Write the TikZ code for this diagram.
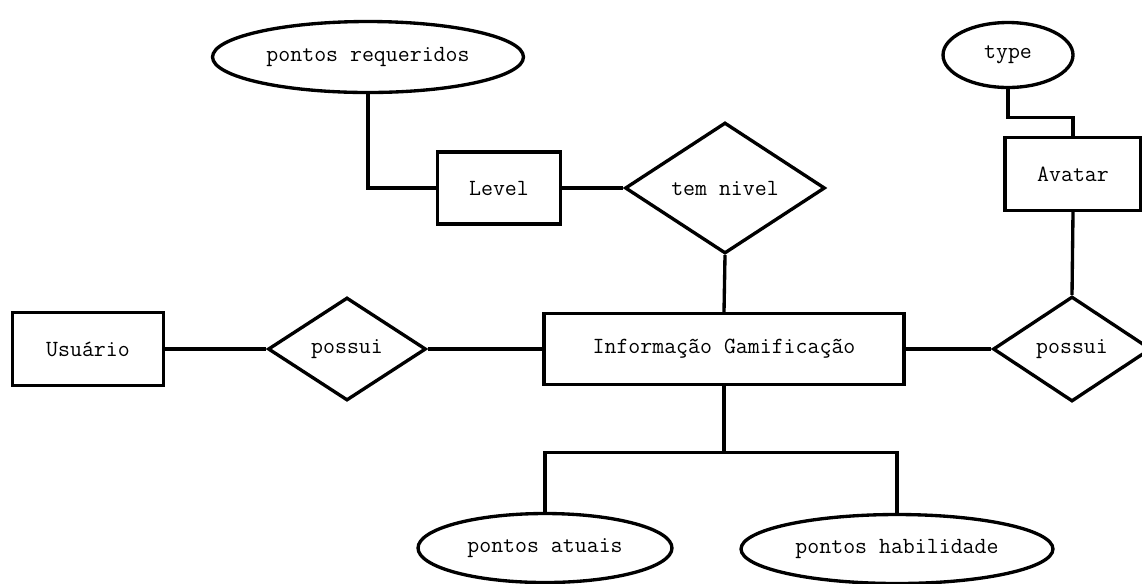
\documentclass[tikz,border=0pt]{standalone}
\usepackage{fontspec}
\usetikzlibrary{shapes.geometric}

\begin{document}
\begin{tikzpicture}[x=0.02cm, y=-0.02cm,
		every node/.style={font=\ttfamily\fontsize{13.2}{15}\selectfont, inner sep=0pt},
		entity/.style={draw, line width=1.9pt, rectangle},
		relation/.style={draw, line width=1.9pt, diamond},
		attribute/.style={draw, line width=1.9pt, ellipse},
		link/.style={line width=1.9pt}]
		\useasboundingbox (0,0) rectangle (1142,583);

		% entidades
		\node[entity, minimum width=3.02cm, minimum height=1.46cm] (usuario) at (88,349) {Usuário};
		\node[entity, minimum width=7.2cm, minimum height=1.42cm] (info) at (724,349) {Informação Gamificação};
		\node[entity, minimum width=2.46cm, minimum height=1.44cm] (level) at (499,188) {Level};
		\node[entity, minimum width=2.72cm, minimum height=1.46cm] (avatar) at (1073,174) {Avatar};

		% relacionamentos
		\node[relation, minimum width=3.16cm, minimum height=2.06cm] (possuiA) at (347,349) {possui};
		\node[relation, minimum width=3.16cm, minimum height=2.1cm] (possuiB) at (1072,349) {possui};
		\node[relation, minimum width=4cm, minimum height=2.62cm] (temNivel) at (725,188) {tem nivel};

		% atributos
		\node[attribute, minimum width=6.22cm, minimum height=1.42cm] (requeridos) at (368,57) {pontos requeridos};
		\node[attribute, minimum width=2.6cm, minimum height=1.3cm] (tipo) at (1008,55) {type};
		\node[attribute, minimum width=5.08cm, minimum height=1.38cm] (atuais) at (545,548) {pontos atuais};
		\node[attribute, minimum width=6.24cm, minimum height=1.38cm] (habilidade) at (897,549) {pontos habilidade};

		\draw[link] (usuario.east) -- (possuiA.west);
		\draw[link] (possuiA.east) -- (info.west);
		\draw[link] (info.east) -- (possuiB.west);
		\draw[link] (possuiB.north) -- (avatar.south);
		\draw[link] (tipo.south) -- ++(0,28) -| (avatar.north);
		\draw[link] (requeridos.south) |- (level.west);
		\draw[link] (level.east) -- (temNivel.west);
		\draw[link] (temNivel.south) -- (info.north);

		\draw[link] (info.south) -- ++(0,66) coordinate (fork);
		\draw[link] (fork) -| (atuais.north);
		\draw[link] (fork) -| (habilidade.north);

	\end{tikzpicture}
\end{document}
